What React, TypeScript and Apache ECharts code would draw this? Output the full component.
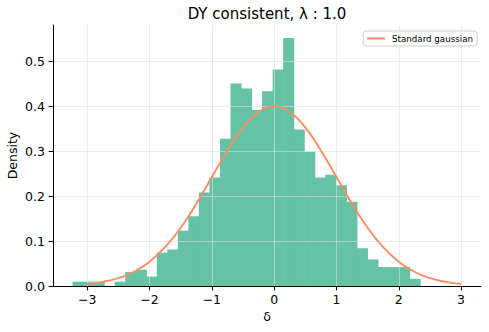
import React, { useEffect, useRef } from 'react';
import * as echarts from 'echarts';

const TITLE = 'DY consistent, λ : 1.0';
const X_LABEL = 'δ';
const Y_LABEL = 'Density';
const LEGEND_LABEL = 'Standard gaussian';

// Histogram bins (uniform width), heights
const BIN_START = -3.236;
const BIN_WIDTH = 0.169;
const DENSITY = [
  0.0096, 0.0096, 0.0096, 0, 0.0096, 0.031, 0.036, 0.021, 0.074, 0.081,
  0.123, 0.155, 0.208, 0.241, 0.327, 0.45, 0.439, 0.391, 0.433, 0.481,
  0.551, 0.348, 0.299, 0.241, 0.247, 0.224, 0.187, 0.084, 0.059, 0.042,
  0.042, 0.042, 0.016,
];

// Standard gaussian curve, sampled points
const GAUSS_X = [
  -3, -2.75, -2.5, -2.25, -2, -1.75, -1.5, -1.25, -1, -0.75, -0.5, -0.25, 0,
  0.25, 0.5, 0.75, 1, 1.25, 1.5, 1.75, 2, 2.25, 2.5, 2.75, 3,
];
const GAUSS_Y = [
  0.0044, 0.0091, 0.0175, 0.0317, 0.054, 0.0863, 0.1295, 0.1826, 0.242, 0.3011, 0.3521, 0.3867, 0.3989,
  0.3867, 0.3521, 0.3011, 0.242, 0.1826, 0.1295, 0.0863, 0.054, 0.0317, 0.0175, 0.0091, 0.0044,
];

const X_TICKS = [-3, -2, -1, 0, 1, 2, 3];
const Y_TICKS = [0, 0.1, 0.2, 0.3, 0.4, 0.5];

const FONT = 'DejaVu Sans';
const BAR_COLOR = '#66c2a5';
const LINE_COLOR = '#fc8d62';
const GRID_COLOR = 'rgba(222,222,222,0.6)';

export default function App() {
  const ref = useRef<HTMLDivElement>(null);

  useEffect(() => {
    if (!ref.current) return;
    const chart = echarts.init(ref.current, undefined, { renderer: 'svg' });

    const histData = DENSITY.map((h, i) => [
      BIN_START + i * BIN_WIDTH,
      BIN_START + (i + 1) * BIN_WIDTH,
      h,
    ]);
    const lineData = GAUSS_X.map((x, i) => [x, GAUSS_Y[i]]);

    const fmtX = (v: number) => (v < 0 ? '\u2212' + Math.abs(v) : String(v));

    chart.setOption({
      animation: false,
      textStyle: { fontFamily: FONT },
      title: {
        text: TITLE,
        left: 267,
        top: 6,
        padding: 0,
        textAlign: 'center',
        textStyle: { fontFamily: FONT, fontSize: 15, fontWeight: 'normal', color: '#000' },
      },
      grid: { left: 53, right: 8, top: 25, bottom: 46, containLabel: false, outerBoundsMode: 'none' },
      legend: {
        data: [{ name: LEGEND_LABEL, icon: 'rect' }],
        right: 12,
        top: 31,
        itemWidth: 18,
        itemHeight: 2,
        padding: [3, 4, 3, 4],
        borderColor: '#cccccc',
        borderWidth: 1,
        borderRadius: 3,
        backgroundColor: 'rgba(255,255,255,0.8)',
        z: 10,
        textStyle: { fontFamily: FONT, fontSize: 8.7, color: '#000', padding: [0, 0, 0, 2], lineHeight: 9 },
      },
      xAxis: {
        type: 'value',
        min: -3.55,
        max: 3.32,
        z: 3,
        name: X_LABEL,
        nameLocation: 'middle',
        nameGap: 24,
        nameMoveOverlap: false,
        nameTextStyle: { fontFamily: FONT, fontSize: 12.5, color: '#000' },
        axisLine: { show: true, onZero: false, lineStyle: { color: '#000', width: 1 } },
        axisTick: { show: true, length: 4.4, lineStyle: { color: '#000', width: 1 }, customValues: X_TICKS },
        axisLabel: {
          customValues: X_TICKS,
          formatter: fmtX,
          fontFamily: FONT,
          fontSize: 12.5,
          color: '#000',
          margin: 7,
        },
        splitLine: { show: true, lineStyle: { color: GRID_COLOR, width: 1 } },
      },
      yAxis: {
        type: 'value',
        min: 0,
        max: 0.58,
        z: 3,
        name: Y_LABEL,
        nameLocation: 'middle',
        nameGap: 34,
        nameRotate: 90,
        nameMoveOverlap: false,
        nameTextStyle: { fontFamily: FONT, fontSize: 12.5, color: '#000' },
        axisLine: { show: true, onZero: false, lineStyle: { color: '#000', width: 1 } },
        axisTick: { show: true, length: 4.4, lineStyle: { color: '#000', width: 1 }, customValues: Y_TICKS },
        axisLabel: {
          customValues: Y_TICKS,
          formatter: (v: number) => v.toFixed(1),
          fontFamily: FONT,
          fontSize: 12.5,
          color: '#000',
          margin: 8,
        },
        splitLine: { show: true, lineStyle: { color: GRID_COLOR, width: 1 } },
      },
      series: [
        {
          type: 'custom',
          name: 'hist',
          z: 2,
          data: histData,
          encode: { x: [0, 1], y: 2 },
          renderItem: (_params: any, api: any) => {
            const x0 = api.value(0);
            const x1 = api.value(1);
            const h = api.value(2);
            const p0 = api.coord([x0, 0]);
            const p1 = api.coord([x1, h]);
            return {
              type: 'rect',
              shape: { x: p0[0], y: p1[1], width: p1[0] - p0[0] + 0.6, height: p0[1] - p1[1] },
              style: { fill: BAR_COLOR },
            };
          },
        },
        {
          type: 'line',
          name: LEGEND_LABEL,
          data: lineData,
          smooth: true,
          symbol: 'none',
          z: 5,
          itemStyle: { color: LINE_COLOR },
          lineStyle: { color: LINE_COLOR, width: 1.9 },
        },
      ],
    });

    return () => chart.dispose();
  }, []);

  return (
    <div
      ref={ref}
      style={{ position: 'fixed', left: 0, top: 0, width: 489, height: 332, background: '#fff' }}
    />
  );
}
